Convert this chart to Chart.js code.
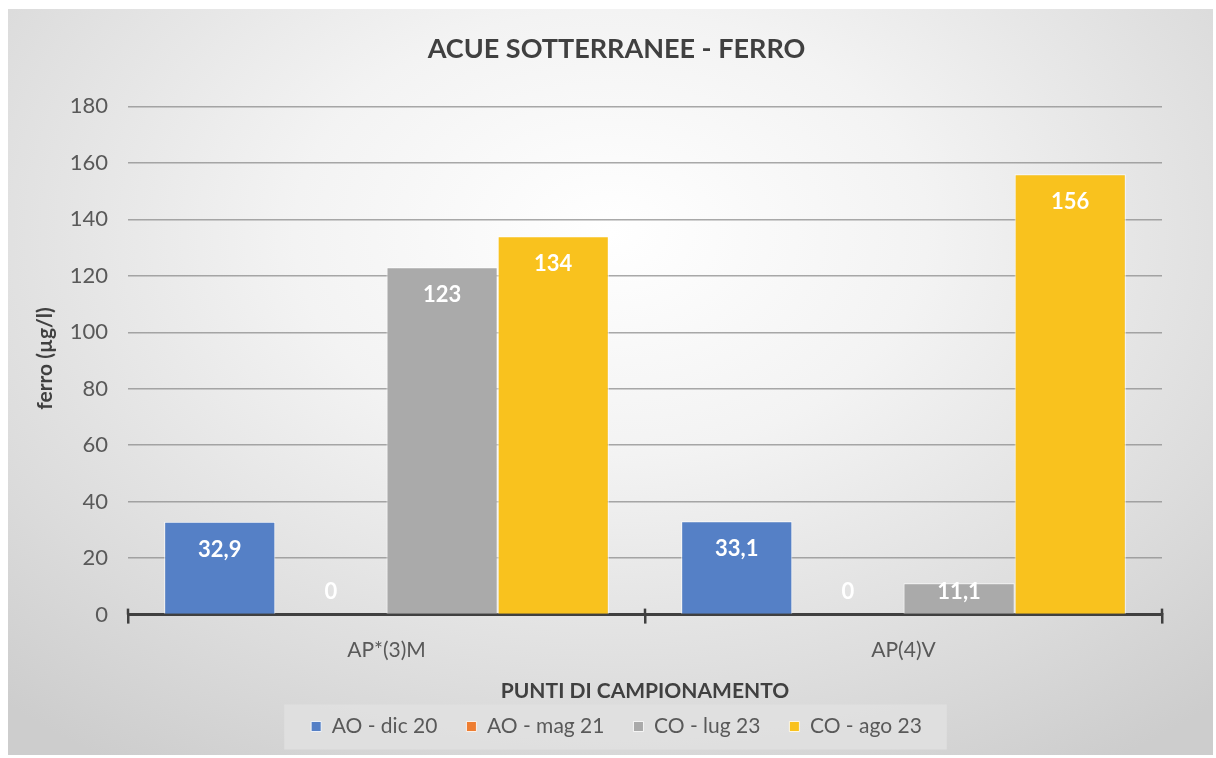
<!DOCTYPE html>
<html>
<head>
<meta charset="utf-8">
<title>Acue sotterranee - ferro</title>
<script src="https://cdn.jsdelivr.net/npm/chart.js@4.4.1/dist/chart.umd.min.js"></script>
<style>
  html, body { margin: 0; padding: 0; background: #fff; }
  #riquadro {
    position: absolute; left: 8px; top: 9px; width: 1205px; height: 746px;
    background: radial-gradient(ellipse 75% 85% at 50% 30%, #ffffff 0%, #f3f3f3 35%, #dcdcdc 75%, #cdcdcd 100%);
  }
</style>
</head>
<body>
<div id="riquadro"><canvas id="grafico"></canvas></div>
<script>
// dati
const categorie = ['AP*(3)M', 'AP(4)V'];
const nomiSerie = ['AO - dic 20', 'AO - mag 21', 'CO - lug 23', 'CO - ago 23'];
const aoDic20 = [32.9, 33.1];
const aoMag21 = [0, 0];
const coLug23 = [123, 11.1];
const coAgo23 = [134, 156];
const colori = ['#5580c6', '#ee7d31', '#aaaaaa', '#f9c21e'];
const yMin = 0, yMax = 180, yPasso = 20;
const titoloY = 'ferro (µg/l)';

const FONT = 'Lato, "Open Sans", sans-serif';

// riquadro grigio dietro la legenda
const sfondoLegenda = {
  id: 'sfondoLegenda',
  beforeDraw(chart) {
    const hb = chart.legend.legendHitBoxes;
    if (!hb || !hb.length) return;
    const ctx = chart.ctx;
    const ultimo = hb[hb.length - 1];
    const x1 = hb[0].left - 27;
    const x2 = ultimo.left + ultimo.width + 25;
    const yc = hb[0].top + hb[0].height / 2;
    ctx.save();
    ctx.fillStyle = 'rgba(225,225,225,0.85)';
    ctx.fillRect(x1, yc - 22, x2 - x1, 45);
    ctx.restore();
  }
};

// titolo asse y, a sinistra dei numeri
const titoloAsseY = {
  id: 'titoloAsseY',
  afterDraw(chart) {
    const y = chart.scales.y, ctx = chart.ctx;
    ctx.save();
    ctx.translate(y.left - 26, (y.top + y.bottom) / 2 - 2);
    ctx.rotate(-Math.PI / 2);
    ctx.font = 'bold 21px ' + FONT;
    ctx.fillStyle = '#404040';
    ctx.textAlign = 'center';
    ctx.textBaseline = 'middle';
    ctx.fillText(titoloY, 0, 0);
    ctx.restore();
  }
};

// tacche dell'asse x sopra la linea dello zero
const tacche = {
  id: 'tacche',
  afterDatasetsDraw(chart) {
    const x = chart.scales.x, ctx = chart.ctx;
    const y0 = chart.scales.y.getPixelForValue(0);
    const larg = (x.right - x.left) / categorie.length;
    ctx.save();
    ctx.strokeStyle = '#404040';
    ctx.lineWidth = 2.5;
    for (let i = 0; i <= categorie.length; i++) {
      const px = x.left + i * larg;
      ctx.beginPath();
      ctx.moveTo(px, y0 - 6);
      ctx.lineTo(px, y0);
      ctx.stroke();
    }
    ctx.restore();
  }
};

// etichette bianche dentro le barre
const etichette = {
  id: 'etichette',
  afterDatasetsDraw(chart) {
    const ctx = chart.ctx;
    const base = chart.scales.y.getPixelForValue(0);
    ctx.save();
    ctx.font = 'bold 22px ' + FONT;
    ctx.fillStyle = '#ffffff';
    ctx.textAlign = 'center';
    ctx.textBaseline = 'middle';
    chart.data.datasets.forEach((ds, i) => {
      chart.getDatasetMeta(i).data.forEach((barra, j) => {
        const y = Math.min(barra.y + 28, base - 23);
        ctx.fillText(String(ds.data[j]).replace('.', ','), barra.x, y);
      });
    });
    ctx.restore();
  }
};

const serie = [aoDic20, aoMag21, coLug23, coAgo23];

new Chart(document.getElementById('grafico'), {
  type: 'bar',
  data: {
    labels: categorie,
    datasets: serie.map((valori, i) => ({
      label: nomiSerie[i],
      data: valori,
      backgroundColor: colori[i],
      borderColor: 'rgba(255,255,255,0.8)',
      borderWidth: 1,
      categoryPercentage: 0.86,
      barPercentage: 1
    }))
  },
  options: {
    responsive: true,
    maintainAspectRatio: false,
    animation: false,
    layout: { padding: { left: 63, right: 51, top: 0, bottom: 8 } },
    plugins: {
      title: {
        display: true,
        text: 'ACUE SOTTERRANEE - FERRO',
        color: '#404040',
        font: { family: FONT, size: 27, weight: 'bold' },
        padding: { top: 24, bottom: 41 }
      },
      legend: {
        position: 'bottom',
        labels: {
          color: '#595959',
          font: { family: FONT, size: 21 },
          boxWidth: 10,
          boxHeight: 10,
          padding: 29
        }
      },
      tooltip: { enabled: false }
    },
    scales: {
      x: {
        grid: {
          display: true,
          drawOnChartArea: false,
          drawTicks: true,
          tickLength: 9,
          color: '#404040',
          lineWidth: 2.5
        },
        border: { display: true, color: '#404040', width: 3 },
        ticks: { color: '#595959', font: { family: FONT, size: 21 }, padding: 14 },
        title: {
          display: true,
          text: 'PUNTI DI CAMPIONAMENTO',
          color: '#404040',
          font: { family: FONT, size: 21, weight: 'bold' },
          padding: { top: 2, bottom: -17 }
        }
      },
      y: {
        min: yMin,
        max: yMax,
        afterFit(scala) { scala.width = 57; },
        grid: {
          drawTicks: false,
          color: ctx => ctx.tick.value === 0 ? 'rgba(0,0,0,0)' : 'rgba(140,140,140,0.75)',
          lineWidth: 1.5
        },
        border: { display: false },
        ticks: {
          stepSize: yPasso,
          color: '#595959',
          font: { family: FONT, size: 22 },
          padding: 20
        },
        title: { display: false }
      }
    }
  },
  plugins: [sfondoLegenda, titoloAsseY, tacche, etichette]
});
</script>
</body>
</html>
